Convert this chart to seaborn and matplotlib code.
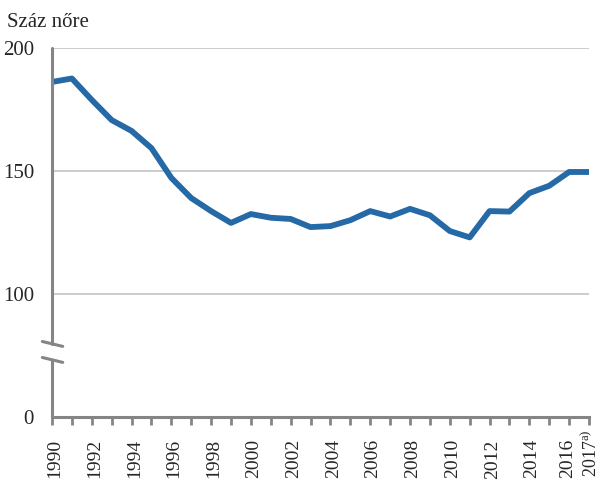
import numpy as np
import pandas as pd
import matplotlib
matplotlib.use("Agg")
import matplotlib.pyplot as plt
import matplotlib.transforms as mtransforms
import seaborn as sns


# ─── ADATOK ─────────────────────────────────────────────────────────────
years = list(range(1990, 2018))
ratio = [186.2, 187.6, 178.9, 170.7, 166.3, 159.3, 147.2, 139.0, 133.7, 128.9,
         132.5, 131.0, 130.5, 127.2, 127.6, 130.0, 133.7, 131.5, 134.6, 132.0,
         125.6, 123.0, 133.7, 133.5, 141.0, 144.0, 149.6, 149.6]
tick_years = list(range(1990, 2018, 2)) + [2017]
tick_labels = [str(y) for y in range(1990, 2018, 2)] + [r"2017$^{\mathrm{a)}}$"]
y_ticks = [50, 100, 150, 200]          # 50 = a tört tengely "0" pontja
y_labels = ["0", "100", "150", "200"]

LINE = "#2569a6"
AXIS = "#858585"
GRID = "#c8c8c8"

sns.set_style("white")
plt.rcParams["font.family"] = ["Liberation Serif", "DejaVu Serif"]
plt.rcParams["mathtext.fontset"] = "custom"
plt.rcParams["mathtext.rm"] = "Liberation Serif"

df = pd.DataFrame({"year": years, "ratio": ratio})

fig = plt.figure(figsize=(6.01, 4.86), dpi=100)
ax = fig.add_axes([52 / 601, 1 - 417 / 486, 537 / 601, 369 / 486])

sns.lineplot(data=df, x="year", y="ratio", ax=ax, color=LINE, linewidth=4.2,
             solid_capstyle="round", solid_joinstyle="round", zorder=3)

ax.set_xlim(1990, 2017)
ax.set_ylim(50, 200)
ax.set_xlabel("")
ax.set_ylabel("")

# rácsvonalak
for v in [100, 150, 200]:
    ax.axhline(v, color=GRID, linewidth=1.3, zorder=1)

# tengelyek
for s in ["top", "right", "left"]:
    ax.spines[s].set_visible(False)
ax.spines["bottom"].set_color(AXIS)
ax.spines["bottom"].set_linewidth(2.2)
ax.spines["bottom"].set_zorder(4)

# bal tengely megszakítással
brk_lo, brk_hi = 73.2, 79.7
ax.axvline(1990, ymin=0, ymax=(brk_lo - 50) / 150, color=AXIS, linewidth=2.2,
           clip_on=False, zorder=4)
ax.axvline(1990, ymin=(brk_hi - 50) / 150, ymax=1, color=AXIS, linewidth=2.2,
           clip_on=False, zorder=4)
tr = ax.get_yaxis_transform()
for yb in [brk_lo, brk_hi]:
    ax.plot([-0.018, 0.02], [yb + 1.0, yb - 1.0], transform=tr, color=AXIS,
            linewidth=2.2, clip_on=False, zorder=4)

# x tengely: minden évben osztásjel, címke csak kétévente + 2017
ax.xaxis.remove_overlapping_locs = False
ax.set_xticks(years)
ax.set_xticklabels(["" for _ in years])
ax.set_xticks(tick_years, minor=True)
ax.set_xticklabels(tick_labels, minor=True, rotation=90, fontsize=14)
ax.tick_params(axis="x", which="major", length=6, width=2, color=AXIS,
               direction="out", bottom=True)
ax.tick_params(axis="x", which="minor", length=0, pad=16, bottom=True)

labels = ax.get_xticklabels(minor=True)
n = len(labels)
for i, lab in enumerate(labels):
    if i == n - 1:
        lab.set_fontsize(13)
        off = mtransforms.ScaledTranslation(1.5 / 72, 7 / 72, fig.dpi_scale_trans)
    elif i == n - 2:
        off = mtransforms.ScaledTranslation(-1 / 72, 0, fig.dpi_scale_trans)
    else:
        off = mtransforms.ScaledTranslation(2 / 72, 0, fig.dpi_scale_trans)
    lab.set_transform(lab.get_transform() + off)

ax.set_yticks(y_ticks)
ax.set_yticklabels(y_labels, fontsize=15)
ax.tick_params(axis="y", length=0, pad=13)

fig.text(7 / 601, 1 - 27 / 486, "Száz nőre", fontsize=15, ha="left", va="baseline")

fig.savefig("out.png", dpi=100)
